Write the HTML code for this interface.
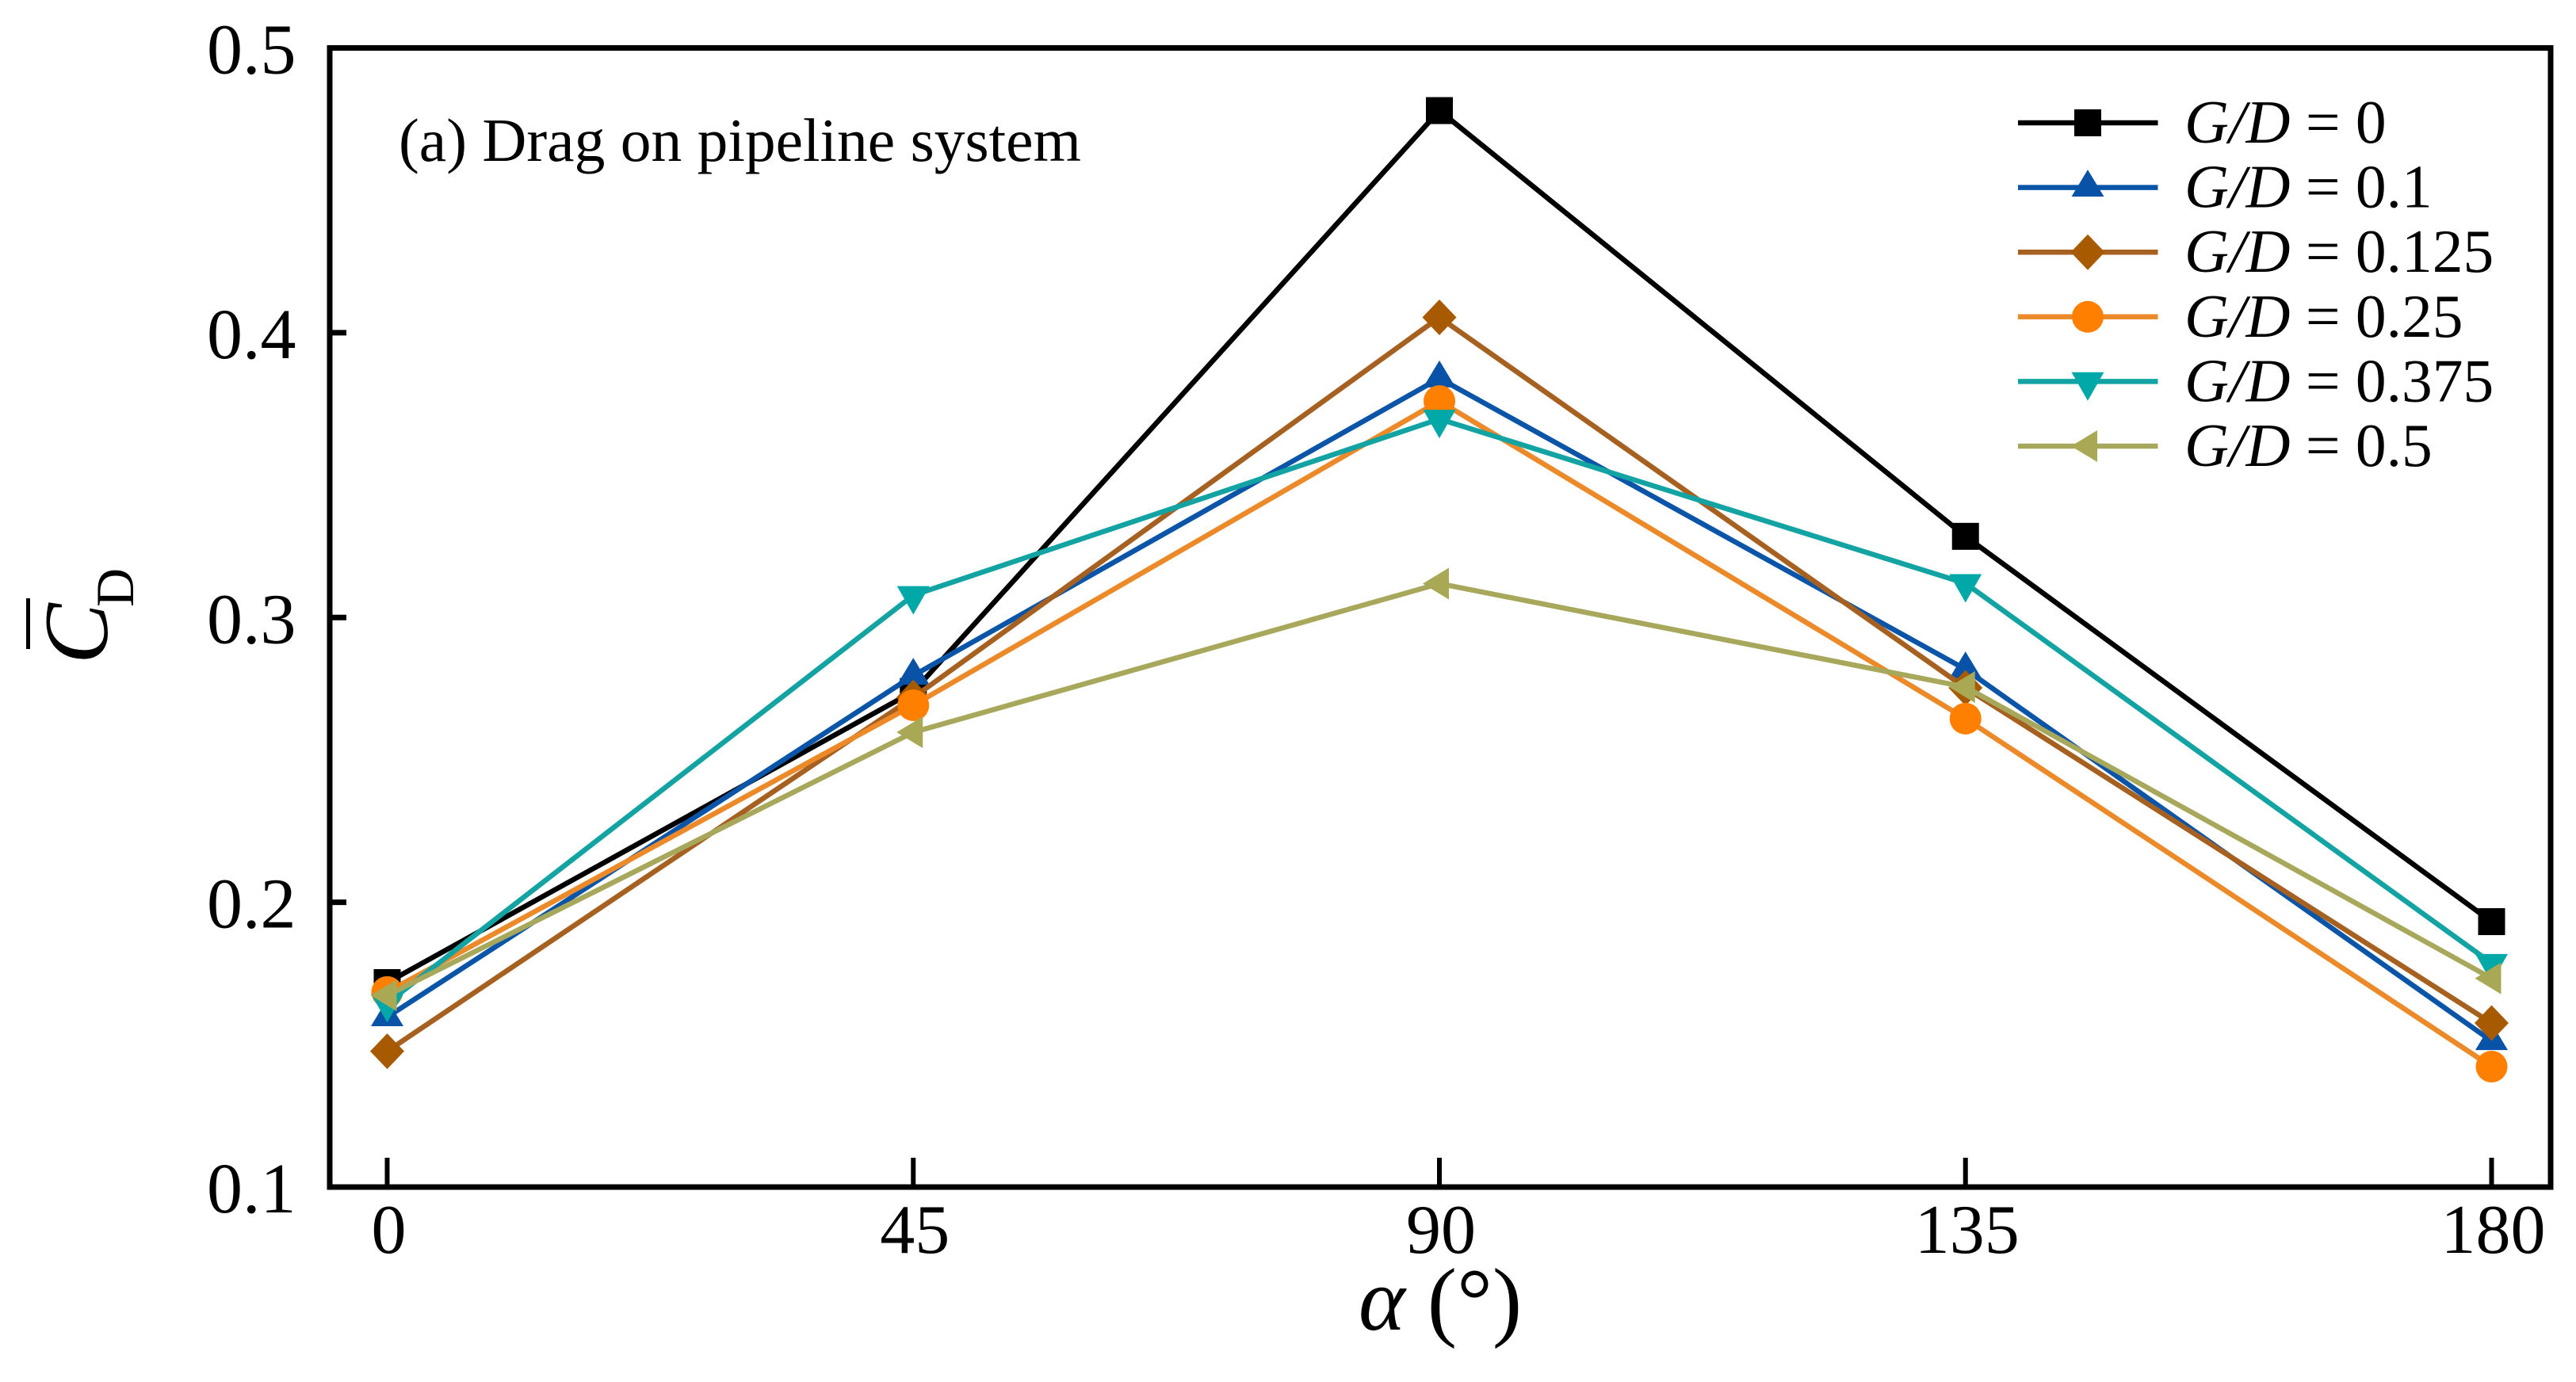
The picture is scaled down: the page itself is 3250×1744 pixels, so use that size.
<!DOCTYPE html>
<html lang="en">
<head>
<meta charset="utf-8">
<title>Drag on pipeline system</title>
<style>
  html, body { margin: 0; padding: 0; background: #fff; }
  svg { display: block; font-family: "Liberation Serif", "Times New Roman", serif; fill: #000; }
</style>
</head>
<body>
<svg id="chart" xmlns="http://www.w3.org/2000/svg" width="3250" height="1744" viewBox="0 0 3250 1744">
  <rect x="0" y="0" width="3250" height="1744" fill="#fff"/>
  <g id="series-layer"></g>
  <rect x="416" y="60.5" width="2802" height="1437.5" fill="none" stroke="#000" stroke-width="7"/>
  <g id="tick-layer"></g>
  <text x="503" y="203" font-size="77.5">(a) Drag on pipeline system</text>
  <text x="1714" y="1678" font-size="112"><tspan font-style="italic">α</tspan> (°)</text>
  <g>
    <rect x="33" y="755" width="5" height="64" fill="#000"/>
    <text transform="translate(135 838) rotate(-90)" font-size="115" font-style="italic">C</text>
    <text transform="translate(168 766) rotate(-90)" font-size="68">D</text>
  </g>
  <g id="legend"></g>
</svg>
<script>
const xCategories = [0, 45, 90, 135, 180];
const yTicks = [0.1, 0.2, 0.3, 0.4, 0.5];
const yTickLabels = ["0.1", "0.2", "0.3", "0.4", "0.5"];
const xTickLabels = ["0", "45", "90", "135", "180"];

const seriesNames = ["0", "0.1", "0.125", "0.25", "0.375", "0.5"];
const valuesGap0 = [0.1718, 0.274, 0.478, 0.3285, 0.1932];
const valuesGap01 = [0.1597, 0.2796, 0.384, 0.2818, 0.1513];
const valuesGap0125 = [0.1477, 0.2719, 0.4054, 0.2753, 0.1576];
const valuesGap025 = [0.1685, 0.2692, 0.376, 0.2645, 0.1423];
const valuesGap0375 = [0.1646, 0.3078, 0.3697, 0.312, 0.1786];
const valuesGap05 = [0.1673, 0.2597, 0.3119, 0.2756, 0.1733];
const allValues = [valuesGap0, valuesGap01, valuesGap0125, valuesGap025, valuesGap0375, valuesGap05];

const markerKinds = ["square", "up", "diamond", "circle", "down", "left"];
const lineColors = ["#000000", "#0b55a8", "#a6601f", "#ec8a2a", "#13a3a3", "#a8a85c"];
const markerColors = ["#000000", "#0852a8", "#a85a00", "#ff7f00", "#00a8a8", "#a8a855"];

const SVG_NS = "http://www.w3.org/2000/svg";
const xScale = function (v) { return 488.5 + (v - 0) * (3143.5 - 488.5) / 180; };
const yScale = function (v) { return 1498 - (v - 0.1) * (1498 - 60.5) / 0.4; };

function make(tag, parent, attrs) {
  const el = document.createElementNS(SVG_NS, tag);
  for (const k in attrs) { el.setAttribute(k, attrs[k]); }
  parent.appendChild(el);
  return el;
}

function drawMarker(parent, kind, cx, cy, color) {
  let el;
  if (kind === "square") {
    el = make("rect", parent, { x: cx - 17, y: cy - 17, width: 34, height: 34, fill: color });
  } else if (kind === "circle") {
    el = make("ellipse", parent, { cx: cx, cy: cy, rx: 20, ry: 20, fill: color });
  } else {
    let pts;
    if (kind === "up") { pts = [[0, -22.5], [20.5, 11.5], [-20.5, 11.5]]; }
    if (kind === "down") { pts = [[0, 24.4], [20.5, -11.6], [-20.5, -11.6]]; }
    if (kind === "diamond") { pts = [[0, -22.5], [21.5, 0], [0, 22.5], [-21.5, 0]]; }
    if (kind === "left") { pts = [[-21, 0], [12, -20], [12, 20]]; }
    el = make("polygon", parent, {
      points: pts.map(function (p) { return (cx + p[0]) + "," + (cy + p[1]); }).join(" "),
      fill: color
    });
  }
  return el;
}

const seriesLayer = document.getElementById("series-layer");
allValues.forEach(function (vals, i) {
  const g = make("g", seriesLayer, {});
  
  
  const line = make("polyline", g, {
    points: vals.map(function (v, j) { return xScale(xCategories[j]) + "," + yScale(v); }).join(" "),
    fill: "none",
    stroke: lineColors[i],
    "stroke-width": 6.5,
    "stroke-linejoin": "miter"
  });
  
  
  vals.forEach(function (v, j) {
    const m = drawMarker(g, markerKinds[i], xScale(xCategories[j]), yScale(v), markerColors[i]);
    
    
  });
});

const tickLayer = document.getElementById("tick-layer");
yTicks.forEach(function (v, i) {
  const y = yScale(v);
  if (i > 0 && i < yTicks.length - 1) {
    const t = make("line", tickLayer, { x1: 416, x2: 437, y1: y, y2: y, stroke: "#000", "stroke-width": 7 });
    
    
  }
  const label = make("text", tickLayer, { x: 261, y: y + 32, "font-size": 90 });
  label.textContent = yTickLabels[i];
  
  
});
xCategories.forEach(function (v, i) {
  const x = xScale(v);
  const t = make("line", tickLayer, { x1: x, x2: x, y1: 1461, y2: 1498, stroke: "#000", "stroke-width": 6 });
  
  
  const label = make("text", tickLayer, { x: x + 2, y: 1581, "font-size": 88, "text-anchor": "middle" });
  label.textContent = xTickLabels[i];
  
  
});

const legend = document.getElementById("legend");
seriesNames.forEach(function (name, i) {
  const rowY = 155 + i * 81.6;
  const g = make("g", legend, {});
  
  
  const swatch = make("line", g, { x1: 2546, x2: 2722.5, y1: rowY, y2: rowY, stroke: lineColors[i], "stroke-width": 6.5 });
  
  
  const m = drawMarker(g, markerKinds[i], 2634, rowY, markerColors[i]);
  
  
  const label = make("text", g, { x: 2756, y: rowY + 25, "font-size": 77.5 });
  
  
  const ital = make("tspan", label, { "font-style": "italic" });
  ital.textContent = "G/D";
  const rest = make("tspan", label, {});
  rest.textContent = " = " + name;
});
</script>
</body>
</html>
